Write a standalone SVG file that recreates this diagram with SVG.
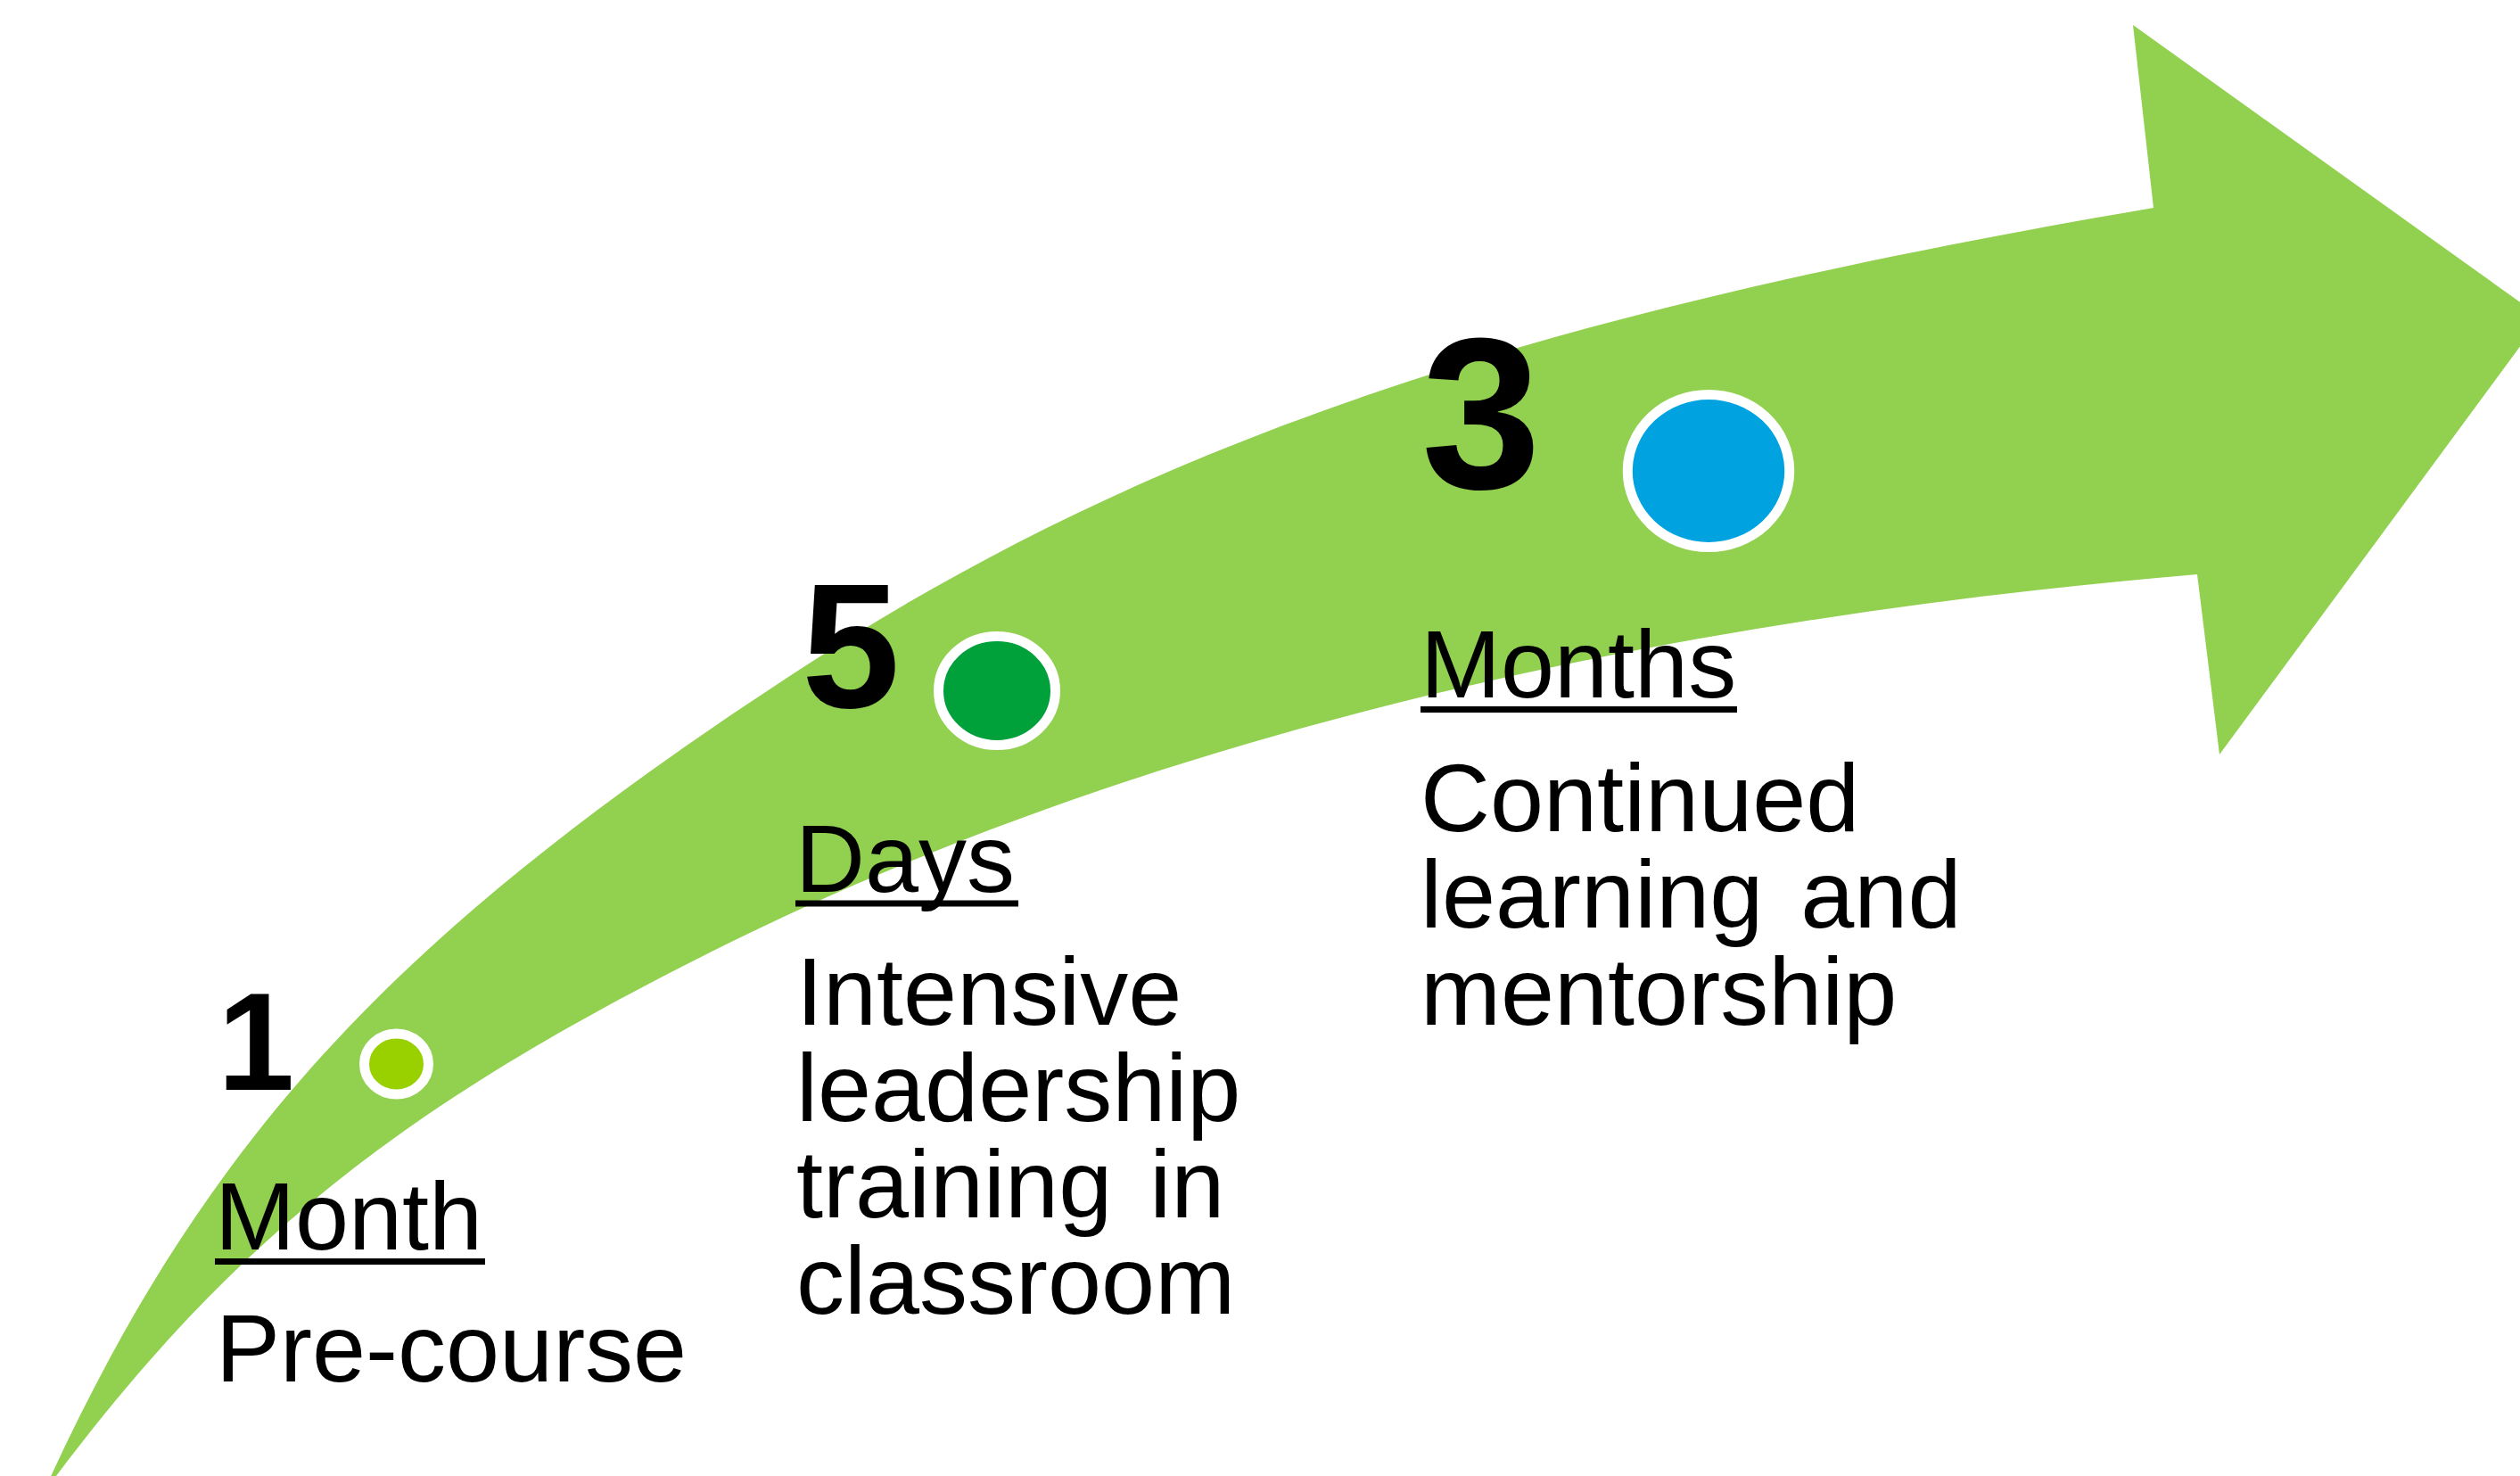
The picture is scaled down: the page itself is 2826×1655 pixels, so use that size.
<svg xmlns="http://www.w3.org/2000/svg" width="2826" height="1655" viewBox="0 0 2826 1655">
<style>
.num{font-family:"Liberation Sans",Arial,sans-serif;font-weight:bold;fill:#000}
.lbl{font-family:"Liberation Sans",Arial,sans-serif;font-size:108px;fill:#000}
.uline{fill:#000}
.dot{stroke:#fff;stroke-width:11}
</style>
<rect width="2826" height="1655" fill="#fff"/>
<g id="arrow">
<path fill="#92D050" d="M48,1675 C228,1278 441.2,1046.7 901,748 C1287.4,496.8 1711.5,352.6 2415,233 L2392,28 L2850,356 L2489,846 L2464,644 C1805.3,700 1250.7,840.7 800,1066 C441.5,1245.25 253.5,1397.5 48,1675 Z"/>
</g>
<g id="connectors"></g>
<g id="step1">
<ellipse class="dot" cx="444.5" cy="1193" rx="36" ry="34" fill="#99D100"/>
<text class="num" x="244" y="1222" font-size="155">1</text>
<text class="lbl" x="241" y="1401">Month</text>
<rect class="uline" x="241" y="1411" width="303" height="7"/>
<text class="lbl" x="242" y="1549">Pre-course</text>
</g>
<g id="step2">
<ellipse class="dot" cx="1118" cy="774.5" rx="65.5" ry="61" fill="#00A03A"/>
<text class="num" x="899" y="793" font-size="198">5</text>
<text class="lbl" x="892" y="1000">Days</text>
<rect class="uline" x="892" y="1009.5" width="250" height="7"/>
<text class="lbl" x="893" y="1149">Intensive</text>
<text class="lbl" x="893" y="1257">leadership</text>
<text class="lbl" x="893" y="1365" word-spacing="12">training in</text>
<text class="lbl" x="893" y="1473">classroom</text>
</g>
<g id="step3">
<ellipse class="dot" cx="1916" cy="528" rx="90.75" ry="85.5" fill="#00A3DF"/>
<text class="num" x="1594" y="547" font-size="241">3</text>
<text class="lbl" x="1593" y="782">Months</text>
<rect class="uline" x="1593" y="792" width="355" height="7"/>
<text class="lbl" x="1593" y="932">Continued</text>
<text class="lbl" x="1593" y="1040" word-spacing="12">learning and</text>
<text class="lbl" x="1593" y="1149">mentorship</text>
</g>
</svg>
